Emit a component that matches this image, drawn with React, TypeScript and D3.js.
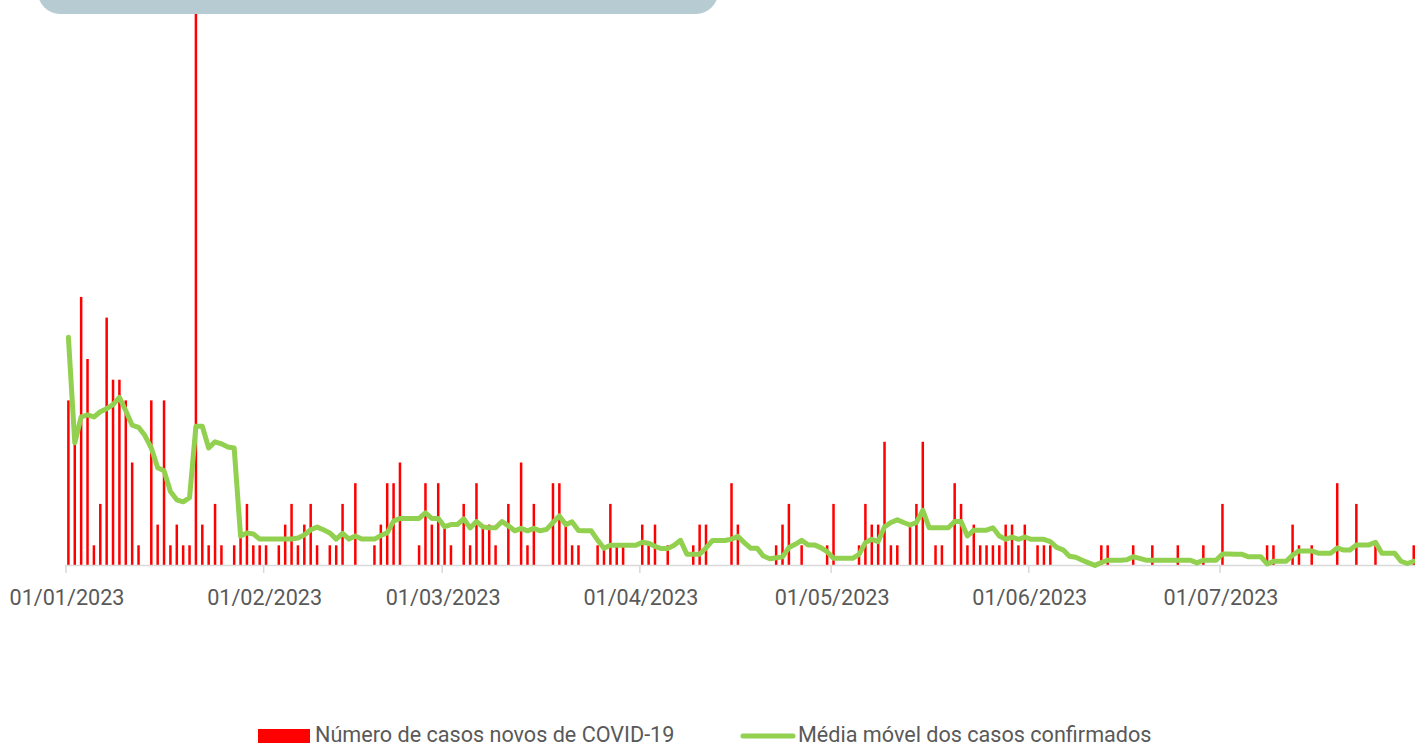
import React, { useEffect } from 'react';
import * as d3 from 'd3';

// Daily new COVID-19 cases, starting 01/01/2023 (one value per day)
const newCases: number[] = [
  8, 6, 13, 10, 1, 3, 12, 9, 9, 8,
  5, 1, 0, 8, 2, 8, 1, 2, 1, 1,
  32, 2, 1, 3, 1, 0, 1, 2, 3, 1,
  1, 1, 0, 1, 2, 3, 1, 2, 3, 1,
  0, 1, 1, 3, 0, 4, 0, 0, 1, 2,
  4, 4, 5, 0, 0, 1, 4, 2, 4, 2,
  1, 0, 3, 1, 4, 2, 2, 1, 0, 3,
  0, 5, 1, 3, 0, 0, 4, 4, 2, 1,
  1, 0, 0, 1, 1, 3, 1, 1, 0, 0,
  2, 1, 2, 0, 1, 0, 0, 0, 1, 2,
  2, 0, 0, 0, 4, 2, 0, 0, 0, 0,
  0, 1, 2, 3, 0, 1, 0, 0, 0, 1,
  3, 0, 0, 0, 1, 3, 2, 2, 6, 1,
  1, 0, 2, 3, 6, 0, 1, 1, 0, 4,
  3, 1, 2, 1, 1, 1, 1, 2, 2, 1,
  2, 0, 1, 1, 1, 0, 0, 0, 0, 0,
  0, 0, 1, 1, 0, 0, 0, 1, 0, 0,
  1, 0, 0, 0, 1, 0, 0, 0, 1, 0,
  0, 3, 0, 0, 0, 0, 0, 0, 1, 1,
  0, 0, 2, 1, 0, 1, 0, 0, 0, 4,
  0, 0, 3, 0, 0, 1, 0, 0, 0, 0,
  0, 1,
];

// Moving average of confirmed cases
const movingAverage: number[] = [
  11.05, 5.95, 7.2, 7.3, 7.2, 7.45, 7.6, 7.8, 8.15, 7.5,
  6.8, 6.7, 6.3, 5.7, 4.75, 4.6, 3.6, 3.2, 3.1, 3.3,
  6.75, 6.75, 5.7, 6.0, 5.9, 5.75, 5.7, 1.45, 1.6, 1.55,
  1.3, 1.3, 1.3, 1.3, 1.3, 1.3, 1.35, 1.5, 1.75, 1.88,
  1.75, 1.6, 1.3, 1.58, 1.3, 1.45, 1.3, 1.3, 1.3, 1.47,
  1.6, 2.17, 2.3, 2.3, 2.3, 2.3, 2.57, 2.3, 2.3, 1.9,
  2.0, 2.0, 2.28, 1.84, 2.15, 1.89, 1.85, 1.85, 2.15, 1.94,
  1.7, 1.82, 1.7, 1.82, 1.7, 1.77, 2.1, 2.42, 2.0, 2.13,
  1.72, 1.7, 1.7, 1.25, 0.86, 1.0, 1.0, 1.0, 1.0, 1.0,
  1.15, 1.1, 0.95, 0.84, 0.84, 1.0, 1.24, 0.57, 0.57, 0.57,
  0.87, 1.23, 1.23, 1.23, 1.3, 1.43, 1.13, 0.86, 0.86, 0.48,
  0.35, 0.4, 0.44, 0.89, 1.05, 1.24, 1.02, 1.02, 0.89, 0.69,
  0.37, 0.37, 0.37, 0.37, 0.56, 1.13, 1.29, 1.18, 1.89, 2.1,
  2.23, 2.1, 1.98, 2.1, 2.69, 1.85, 1.85, 1.85, 1.85, 2.15,
  2.15, 1.45, 1.73, 1.73, 1.73, 1.85, 1.45, 1.29, 1.4, 1.29,
  1.4, 1.29, 1.29, 1.29, 1.18, 0.9, 0.78, 0.47, 0.42, 0.28,
  0.15, 0.03, 0.17, 0.28, 0.28, 0.28, 0.3, 0.45, 0.37, 0.28,
  0.28, 0.28, 0.28, 0.28, 0.28, 0.28, 0.28, 0.15, 0.28, 0.28,
  0.28, 0.58, 0.58, 0.57, 0.57, 0.45, 0.45, 0.45, 0.1, 0.23,
  0.23, 0.23, 0.53, 0.73, 0.73, 0.73, 0.62, 0.62, 0.62, 0.87,
  0.77, 0.77, 1.02, 1.02, 1.02, 1.15, 0.62, 0.62, 0.62, 0.23,
  0.12, 0.23,
];

const legendLabels = ['Número de casos novos de COVID-19', 'Média móvel dos casos confirmados'];

const W = 1415;
const H = 744;
const FONT = 'Roboto, "Open Sans", sans-serif';
const TEXT_COLOR = '#595959';
const BAR_COLOR = '#ff0000';
const LINE_COLOR = '#92d050';

export default function App() {
  useEffect(() => {
    document.body.style.margin = '0';
  }, []);

  const start = new Date(Date.UTC(2023, 0, 1));
  const end = new Date(Date.UTC(2023, 7, 1));
  const x = d3.scaleUtc().domain([start, end]).range([66, 66 + 212 * 6.376]);
  const y = d3.scaleLinear().domain([0, 27]).range([566, 566 - 27 * 20.7]);
  const dates = newCases.map((_, i) => d3.utcDay.offset(start, i));
  const offset = 2.4;
  const barW = 2.5;
  const ticks = d3.utcMonth.range(start, end);
  const fmt = d3.utcFormat('%d/%m/%Y');

  const line = d3
    .line<number>()
    .x((_, i) => x(dates[i]) + offset)
    .y((d) => y(d));

  return (
    <svg
      width={W}
      height={H}
      style={{ position: 'absolute', left: 0, top: 0, display: 'block' }}
      fontFamily={FONT}
    >
      <rect x={0} y={0} width={W} height={H} fill="#ffffff" />
      {/* bars */}
      <g>
        {newCases.map((v, i) =>
          v > 0 ? (
            <rect
              key={i}
              x={x(dates[i]) + offset - barW / 2}
              y={y(v)}
              width={barW}
              height={y(0) - y(v)}
              fill={BAR_COLOR}
            />
          ) : null
        )}
      </g>
      {/* axis */}
      <line x1={65} x2={W} y1={565.5} y2={565.5} stroke="#d9d9d9" strokeWidth={1.5} />
      {ticks.map((t, i) => (
        <g key={i}>
          <line x1={x(t)} x2={x(t)} y1={565.5} y2={573} stroke="#d9d9d9" strokeWidth={1.5} />
          <text
            x={x(t) + 1}
            y={605}
            textAnchor="middle"
            fontSize={21.6}
            fill={TEXT_COLOR}
          >
            {fmt(t)}
          </text>
        </g>
      ))}
      {/* moving average line */}
      <path
        d={line(movingAverage) || ''}
        fill="none"
        stroke={LINE_COLOR}
        strokeWidth={5}
        strokeLinejoin="round"
        strokeLinecap="round"
      />
      {/* title box (cut off at top) */}
      <rect x={38} y={-40} width={680} height={54} rx={22} ry={22} fill="#b6ccd2" />
      {/* legend */}
      <rect x={258} y={729} width={52} height={14} fill={BAR_COLOR} />
      <text x={315} y={742} fontSize={21.6} fill={TEXT_COLOR}>
        {legendLabels[0]}
      </text>
      <line x1={743} x2={793} y1={736} y2={736} stroke={LINE_COLOR} strokeWidth={5} strokeLinecap="round" />
      <text x={798} y={742} fontSize={21.6} fill={TEXT_COLOR}>
        {legendLabels[1]}
      </text>
    </svg>
  );
}
